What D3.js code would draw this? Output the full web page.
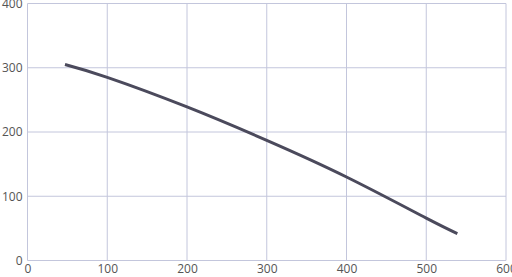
<!DOCTYPE html>
<html>
<head>
<meta charset="utf-8">
<script src="https://cdn.jsdelivr.net/npm/d3@7"></script>
<style>
  body { margin: 0; background: #fff; }
  text { font-family: "Open Sans", "Noto Sans", sans-serif; }
</style>
</head>
<body>
<div id="chart"></div>
<script>
// curve points
var xVals = [47, 100, 200, 300, 400, 500, 539];
var yVals = [305, 285, 239, 187, 130, 66, 42];
var xTicks = [0, 100, 200, 300, 400, 500, 600];
var yTicks = [0, 100, 200, 300, 400];

var margin = {top: 3.5, right: 6, bottom: 16.5, left: 27.5},
    width = 512 - margin.left - margin.right,
    height = 277 - margin.top - margin.bottom;

var svg = d3.select("#chart")
  .append("svg")
    .attr("width", 512)
    .attr("height", 277)
  .append("g")
    .attr("transform", "translate(" + margin.left + "," + margin.top + ")");

var x = d3.scaleLinear().domain([0, 600]).range([0, width]);
var y = d3.scaleLinear().domain([0, 400]).range([height, 0]);

// grid
svg.selectAll(".vgrid")
  .data(xTicks)
  .enter().append("line")
    .attr("x1", function(d) { return x(d); })
    .attr("x2", function(d) { return x(d); })
    .attr("y1", 0)
    .attr("y2", height)
    .attr("stroke", "#c3c6dc")
    .attr("stroke-width", 1);
svg.selectAll(".hgrid")
  .data(yTicks)
  .enter().append("line")
    .attr("x1", 0)
    .attr("x2", width)
    .attr("y1", function(d) { return y(d); })
    .attr("y2", function(d) { return y(d); })
    .attr("stroke", "#c3c6dc")
    .attr("stroke-width", 1);

// axes (labels only)
var xAxis = svg.append("g")
  .attr("transform", "translate(0," + height + ")")
  .call(d3.axisBottom(x).tickValues(xTicks).tickSize(0).tickPadding(4));
xAxis.select(".domain").remove();
xAxis.selectAll("text")
  .attr("fill", "#555")
  .style("font-size", "12px");

var yAxis = svg.append("g")
  .call(d3.axisLeft(y).tickValues(yTicks).tickSize(0).tickPadding(5));
yAxis.select(".domain").remove();
yAxis.selectAll("text")
  .attr("fill", "#555")
  .style("font-size", "12px");

// curve
var pts = xVals.map(function(d, i) { return [d, yVals[i]]; });
var line = d3.line()
  .x(function(d) { return x(d[0]); })
  .y(function(d) { return y(d[1]); })
  .curve(d3.curveNatural);

svg.append("path")
  .datum(pts)
  .attr("d", line)
  .attr("fill", "none")
  .attr("stroke", "#4b4a5c")
  .attr("stroke-width", 3);
</script>
</body>
</html>
